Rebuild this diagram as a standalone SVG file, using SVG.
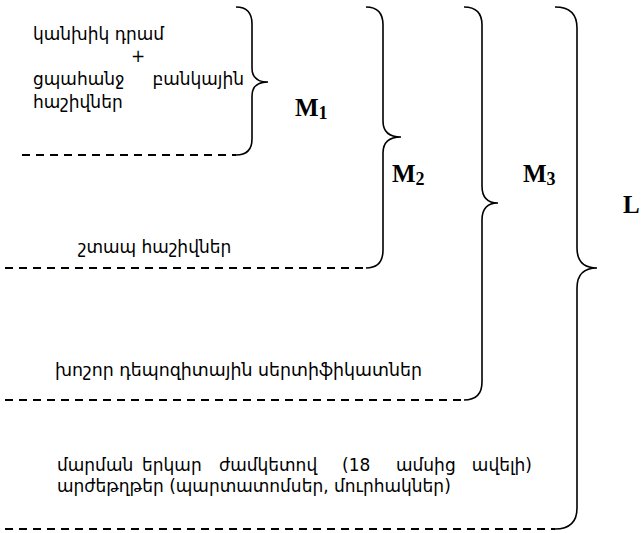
<svg xmlns="http://www.w3.org/2000/svg" width="641" height="533" viewBox="0 0 641 533">
<style>
.t{font-family:"DejaVu Sans","Noto Sans",sans-serif;font-size:17px;fill:#000}
.m{font-family:"Liberation Serif","Times New Roman",serif;font-weight:bold;font-size:25px;fill:#000}
.s{font-family:"Liberation Serif","Times New Roman",serif;font-weight:bold;font-size:18px;fill:#000}
.b{fill:none;stroke:#000;stroke-width:1.6}
.d{fill:none;stroke:#000;stroke-width:1.8;stroke-dasharray:8,6}
</style>
<rect width="641" height="533" fill="#fff"/>
<g id="connectors">
<line class="d" x1="22" y1="155" x2="236" y2="155"/>
<line class="d" x1="5" y1="268" x2="366" y2="268"/>
<line class="d" x1="5" y1="400" x2="464" y2="400"/>
<line class="d" x1="5" y1="529" x2="555" y2="529"/>
</g>
<g id="brace-m1">
<path class="b" d="M236,7 Q252,7 252,24 L252,68 Q252,82 268,82 Q252,82 252,96 L252,139 Q252,155 236,155"/>
<text class="m" x="295" y="116">M<tspan class="s" dy="3">1</tspan></text>
</g>
<g id="brace-m2">
<path class="b" d="M366,7 Q383,7 383,25 L383,121 Q383,137 401,137 Q383,137 383,153 L383,250 Q383,268 366,268"/>
<text class="m" x="392" y="182">M<tspan class="s" dy="3">2</tspan></text>
</g>
<g id="brace-m3">
<path class="b" d="M464,7 Q482,7 482,25 L482,186 Q482,203 498,203 Q482,203 482,220 L482,382 Q482,400 464,400"/>
<text class="m" x="523" y="182">M<tspan class="s" dy="3">3</tspan></text>
</g>
<g id="brace-l">
<path class="b" d="M555,7 Q577,7 577,28 L577,248 Q577,268 597,268 Q577,268 577,288 L577,508 Q577,529 555,529"/>
<text class="m" x="623" y="213">L</text>
</g>
<g id="node-m1">
<text class="t" x="33" y="40">կանխիկ դրամ</text>
<text class="t" x="138" y="62" text-anchor="middle">+</text>
<text class="t" x="33" y="85">ցպահանջ</text>
<text class="t" x="244" y="85" text-anchor="end">բանկային</text>
<text class="t" x="33" y="108">հաշիվներ</text>
</g>
<g id="node-m2">
<text class="t" x="78" y="253">շտապ հաշիվներ</text>
</g>
<g id="node-m3">
<text class="t" x="55" y="376" textLength="367" lengthAdjust="spacingAndGlyphs">խոշոր դեպոզիտային սերտիֆիկատներ</text>
</g>
<g id="node-l">
<text class="t" y="471"><tspan x="57">մարման</tspan><tspan x="142">երկար</tspan><tspan x="219">ժամկետով</tspan><tspan x="342">(18</tspan><tspan x="396">ամսից</tspan><tspan x="532" text-anchor="end">ավելի)</tspan></text>
<text class="t" x="57" y="492">արժեթղթեր (պարտատոմսեր, մուրհակներ)</text>
</g>
</svg>
